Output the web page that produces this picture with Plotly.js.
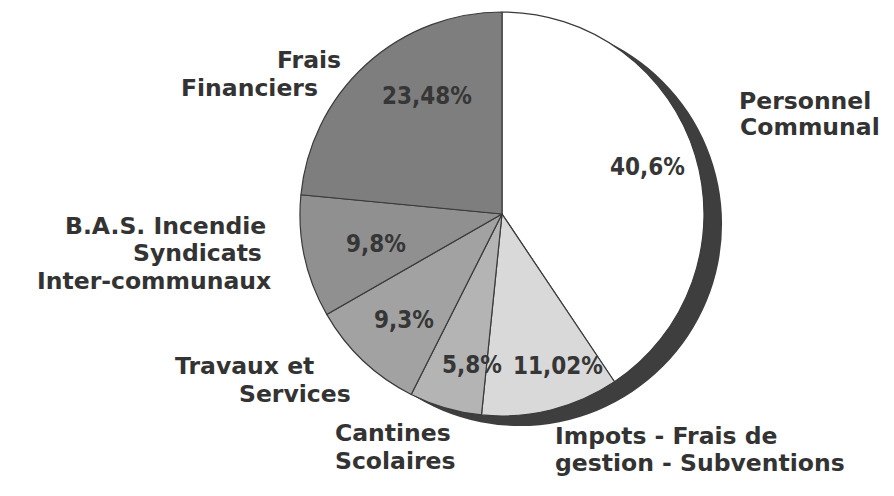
<!DOCTYPE html>
<html>
<head>
<meta charset="utf-8">
<script src="https://cdn.plot.ly/plotly-3.0.1.min.js"></script>
<style>
  html, body { margin: 0; padding: 0; background: #ffffff; }
  #chart { width: 894px; height: 496px; }
</style>
</head>
<body>
<div id="chart"></div>
<script>
// ---------- DATA ----------
const categories = [
  'Personnel Communal',
  'Impots - Frais de gestion - Subventions',
  'Cantines Scolaires',
  'Travaux et Services',
  'B.A.S. Incendie Syndicats Inter-communaux',
  'Frais Financiers'
];
const values = [40.6, 11.02, 5.8, 9.3, 9.8, 23.48];
const labelLines = [
  ['Personnel', 'Communal'],
  ['Impots - Frais de', 'gestion - Subventions'],
  ['Cantines', 'Scolaires'],
  ['Travaux et', 'Services'],
  ['B.A.S. Incendie', 'Syndicats', 'Inter-communaux'],
  ['Frais', 'Financiers']
];

// ---------- STYLE / LAYOUT ----------
const W = 894, H = 496;
const sliceColors = ['#ffffff', '#d9d9d9', '#b4b4b4', '#a2a2a2', '#909090', '#7e7e7e'];
const pie = { cx: 502, cy: 214, r: 202 };
const shadow = { dx: 18, dy: 10, color: '#3e3e3e' };

// label line positions: [centerX, centerY]
const labelPos = [
  [[805, 101], [810, 127]],
  [[666, 436], [700, 463]],
  [[393, 433], [395, 461]],
  [[244, 366], [295, 394]],
  [[165, 226], [197, 253], [154, 281]],
  [[309, 60], [249, 88]]
];
const pctPos = [[647, 167], [558, 366], [472, 365], [404, 320], [376, 244], [427, 96]];

const px = x => x / W;
const py = y => 1 - y / H;

function domainFor(cx, cy, r) {
  return { x: [px(cx - r), px(cx + r)], y: [py(cy + r), py(cy - r)] };
}

const traces = [
  {
    type: 'pie',
    values: [1],
    labels: ['shadow'],
    marker: { colors: [shadow.color], line: { width: 0 } },
    domain: domainFor(pie.cx + shadow.dx, pie.cy + shadow.dy, pie.r),
    textinfo: 'none',
    hoverinfo: 'skip',
    sort: false,
    showlegend: false
  },
  {
    type: 'pie',
    values: values,
    labels: categories,
    marker: { colors: sliceColors, line: { color: '#3a3a3a', width: 1.2 } },
    domain: domainFor(pie.cx, pie.cy, pie.r),
    direction: 'clockwise',
    rotation: 0,
    sort: false,
    textinfo: 'none',
    hoverinfo: 'label+value',
    showlegend: false
  }
];

const annotations = [];
labelLines.forEach((lines, i) => {
  lines.forEach((t, j) => {
    const p = labelPos[i][j];
    annotations.push({
      text: t, xref: 'paper', yref: 'paper',
      x: px(p[0]), y: py(p[1]), xanchor: 'center', yanchor: 'middle',
      showarrow: false, borderpad: 0,
      font: { family: 'DejaVu Sans, Verdana, sans-serif', size: 23.5, color: '#333333', weight: 'bold' }
    });
  });
});
values.forEach((v, i) => {
  annotations.push({
    text: String(v).replace('.', ',') + '%',
    xref: 'paper', yref: 'paper',
    x: px(pctPos[i][0]), y: py(pctPos[i][1]), xanchor: 'center', yanchor: 'middle',
    showarrow: false, borderpad: 0,
    font: { family: 'DejaVu Sans Condensed, Liberation Sans Narrow, DejaVu Sans, sans-serif', size: 24, color: '#363636', weight: 'bold' }
  });
});

const layout = {
  width: W, height: H,
  margin: { l: 0, r: 0, t: 0, b: 0 },
  paper_bgcolor: '#ffffff',
  plot_bgcolor: '#ffffff',
  showlegend: false,
  annotations: annotations
};

Plotly.newPlot('chart', traces, layout, { displayModeBar: false, staticPlot: true });
</script>
</body>
</html>
